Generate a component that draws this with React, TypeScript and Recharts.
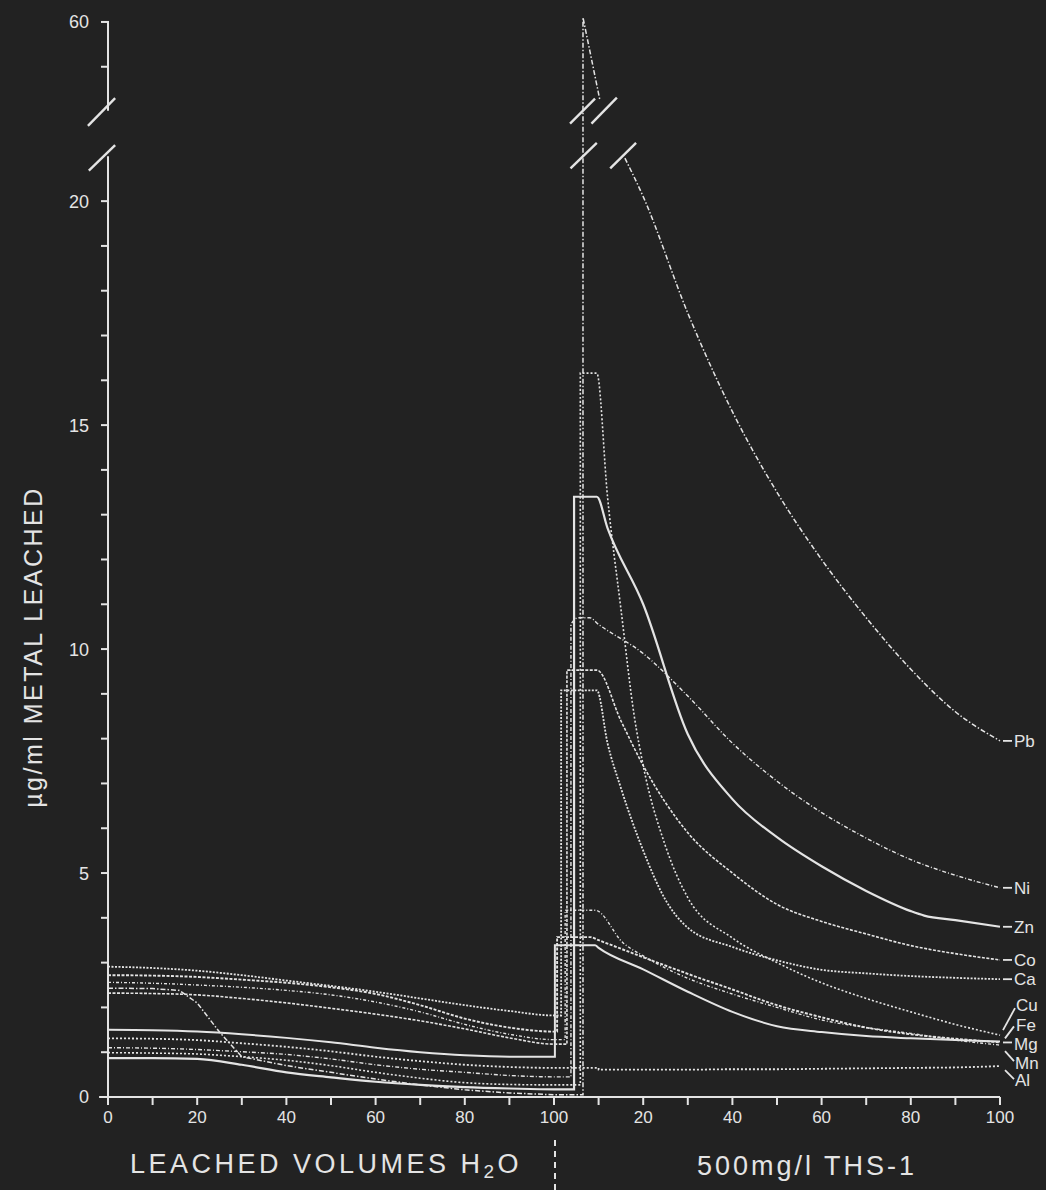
import React from 'react';
import { LineChart, Line, XAxis, YAxis, ReferenceLine, ReferenceDot } from 'recharts';

// ---------------- data ----------------
const H2O_X = [0, 10, 20, 30, 40, 50, 60, 70, 80, 90, 100];

const CA_H2O = [2.91, 2.88, 2.82, 2.72, 2.6, 2.48, 2.35, 2.2, 2.05, 1.92, 1.82];
const FE_H2O = [2.72, 2.71, 2.68, 2.62, 2.55, 2.45, 2.3, 2.05, 1.75, 1.55, 1.46];
const MN_H2O = [2.56, 2.54, 2.5, 2.45, 2.38, 2.28, 2.12, 1.9, 1.62, 1.4, 1.28];
const CO_H2O = [2.32, 2.31, 2.28, 2.2, 2.1, 1.98, 1.85, 1.7, 1.52, 1.32, 1.18];
const MG_H2O = [1.5, 1.49, 1.46, 1.4, 1.32, 1.22, 1.1, 1.0, 0.93, 0.9, 0.9];
const AL_H2O = [1.31, 1.3, 1.27, 1.2, 1.12, 1.02, 0.9, 0.8, 0.72, 0.67, 0.65];
const NI_H2O = [1.1, 1.09, 1.06, 1.01, 0.95, 0.85, 0.72, 0.62, 0.55, 0.48, 0.45];
const CU_H2O = [0.99, 0.98, 0.96, 0.9, 0.82, 0.7, 0.55, 0.42, 0.32, 0.28, 0.27];
const ZN_H2O = [0.87, 0.87, 0.85, 0.72, 0.55, 0.44, 0.34, 0.27, 0.22, 0.19, 0.17];
const PB_H2O_X = [0, 10, 16, 20, 25, 30, 40, 50, 60, 70, 80, 90, 100];
const PB_H2O = [2.43, 2.42, 2.38, 2.1, 1.45, 0.9, 0.7, 0.55, 0.4, 0.27, 0.16, 0.09, 0.05];

// THS-1 part: [x, value] (x 100..200 = THS-1 volumes 0..100)
const CA_THS: [number, number][] = [[101.6, 9.08], [109.6, 9.08], [112, 7.9], [115, 6.9], [120, 5.5], [125, 4.4], [130, 3.78], [140, 3.35], [150, 3.05], [160, 2.84], [170, 2.76], [180, 2.7], [190, 2.66], [200, 2.63]];
const FE_THS: [number, number][] = [[100.7, 3.57], [108.1, 3.57], [110, 3.5], [120, 3.12], [130, 2.75], [140, 2.4], [150, 2.05], [160, 1.78], [170, 1.55], [180, 1.4], [190, 1.3], [200, 1.22]];
const MN_THS: [number, number][] = [[102.5, 4.17], [109.2, 4.17], [115.5, 3.44], [120, 3.15], [130, 2.65], [140, 2.3], [150, 2.0], [160, 1.72], [170, 1.55], [180, 1.42], [190, 1.27], [200, 1.16]];
const CO_THS: [number, number][] = [[102.9, 9.53], [109.6, 9.53], [115, 8.4], [120, 7.4], [130, 5.9], [140, 5.0], [150, 4.3], [160, 3.92], [170, 3.64], [180, 3.38], [190, 3.2], [200, 3.06]];
const MG_THS: [number, number][] = [[100.2, 3.39], [109.2, 3.39], [110, 3.33], [120, 2.85], [130, 2.35], [140, 1.9], [150, 1.58], [160, 1.45], [170, 1.36], [180, 1.31], [190, 1.27], [200, 1.24]];
const AL_THS: [number, number][] = [[110, 0.61], [120, 0.61], [130, 0.61], [140, 0.62], [150, 0.62], [160, 0.63], [170, 0.64], [180, 0.65], [190, 0.66], [200, 0.69]];
const NI_THS: [number, number][] = [[103.8, 10.55], [105.5, 10.7], [108, 10.7], [110, 10.55], [120, 9.9], [130, 8.95], [140, 7.9], [150, 7.05], [160, 6.35], [170, 5.78], [180, 5.3], [190, 4.95], [200, 4.67]];
const CU_THS: [number, number][] = [[105.9, 16.16], [109.6, 16.16], [112, 13.4], [115, 10.9], [118, 8.5], [120, 7.4], [125, 5.6], [130, 4.45], [140, 3.55], [150, 3.0], [160, 2.55], [170, 2.2], [180, 1.9], [190, 1.62], [200, 1.38]];
const ZN_THS: [number, number][] = [[104.5, 13.4], [109.6, 13.4], [112, 12.7], [120, 11.0], [130, 8.1], [140, 6.65], [150, 5.8], [160, 5.15], [170, 4.6], [180, 4.15], [183, 4.05], [190, 3.95], [200, 3.8]];
const PB_PEAK: [number, number][] = [[106.5, 61], [110.3, 42.5]];
const PB_TAIL: [number, number][] = [[115.9, 20.96], [120, 20.1], [130, 17.5], [140, 15.3], [150, 13.5], [160, 12.0], [170, 10.7], [180, 9.55], [190, 8.6], [200, 7.95]];

const X_TICKS = [0, 10, 20, 30, 40, 50, 60, 70, 80, 90, 100, 110, 120, 130, 140, 150, 160, 170, 180, 190, 200];
const Y_TICKS_LOW = [0, 1, 2, 3, 4, 5, 6, 7, 8, 9, 10, 11, 12, 13, 14, 15, 16, 17, 18, 19, 20];
const Y_TICKS_HIGH = [50, 60];
const Y_LABELS = [0, 5, 10, 15, 20, 60];

// ---------------- broken axis mapping ----------------
const BREAK = 21.5;
const toDisplay = (v: number) => (v <= BREAK ? v : 24 + (v - 60) / 10);
const fromDisplay = (d: number) => (d <= BREAK ? d : 60 + (d - 24) * 10);

type Pt = { x: number; y: number };
const pts = (xs: number[], ys: number[]): Pt[] => xs.map((x, i) => ({ x, y: toDisplay(ys[i]) }));
const tup = (t: [number, number][]): Pt[] => t.map(([x, y]) => ({ x, y: toDisplay(y) }));
const metal = (h2o: number[], ths: [number, number][], xs: number[] = H2O_X): Pt[] => [
  ...pts(xs, h2o),
  { x: ths[0][0], y: toDisplay(h2o[h2o.length - 1]) },
  ...tup(ths),
];

const SERIES: { name: string; data: Pt[]; end?: number; curve: 'monotone' | 'linear' }[] = [
  { name: 'Pb', data: metal(PB_H2O, PB_PEAK, PB_H2O_X), curve: 'linear' },
  { name: 'Pb', data: tup(PB_TAIL), end: PB_TAIL[PB_TAIL.length - 1][1], curve: 'monotone' },
  { name: 'Ni', data: metal(NI_H2O, NI_THS), end: NI_THS[NI_THS.length - 1][1], curve: 'monotone' },
  { name: 'Zn', data: metal(ZN_H2O, ZN_THS), end: ZN_THS[ZN_THS.length - 1][1], curve: 'monotone' },
  { name: 'Co', data: metal(CO_H2O, CO_THS), end: CO_THS[CO_THS.length - 1][1], curve: 'monotone' },
  { name: 'Ca', data: metal(CA_H2O, CA_THS), end: CA_THS[CA_THS.length - 1][1], curve: 'monotone' },
  { name: 'Cu', data: metal(CU_H2O, CU_THS), end: CU_THS[CU_THS.length - 1][1], curve: 'monotone' },
  { name: 'Fe', data: metal(FE_H2O, FE_THS), end: FE_THS[FE_THS.length - 1][1], curve: 'monotone' },
  { name: 'Mg', data: metal(MG_H2O, MG_THS), end: MG_THS[MG_THS.length - 1][1], curve: 'monotone' },
  { name: 'Mn', data: metal(MN_H2O, MN_THS), end: MN_THS[MN_THS.length - 1][1], curve: 'monotone' },
  { name: 'Al', data: metal(AL_H2O, AL_THS), end: AL_THS[AL_THS.length - 1][1], curve: 'monotone' },
];

// ---------------- styles ----------------
const BG = '#222222';
const FG = '#e4e4e4';
const FONT = '"Liberation Sans", Arial, sans-serif';

const STYLE: Record<string, { dash?: string; w: number }> = {
  Pb: { dash: '5 2 1.5 2', w: 1.5 },
  Ni: { dash: '4 2 1 2', w: 1.4 },
  Zn: { w: 2.2 },
  Co: { dash: '3 1.5', w: 1.6 },
  Ca: { dash: '2 1.5', w: 1.8 },
  Cu: { dash: '2 2', w: 1.6 },
  Fe: { dash: '3 1.5', w: 1.9 },
  Mg: { w: 2 },
  Mn: { dash: '3 2 1 2', w: 1.4 },
  Al: { dash: '2 2', w: 1.8 },
};

// label offsets: leader from (lx1,ly1) to (lx2,ly2), text at (tx, ty) relative to the line end
const LABEL: Record<string, { l: [number, number, number, number]; tx: number; ty: number }> = {
  Pb: { l: [3, 0, 12, 0], tx: 14, ty: 0 },
  Ni: { l: [3, 0, 12, 0], tx: 14, ty: 0 },
  Zn: { l: [3, 0, 12, 0], tx: 14, ty: 0 },
  Co: { l: [3, 0, 12, 0], tx: 14, ty: 0 },
  Ca: { l: [3, 0, 12, 0], tx: 14, ty: 0 },
  Cu: { l: [3, -5, 15, -27], tx: 16, ty: -30 },
  Fe: { l: [5, -4, 14, -16], tx: 16, ty: -17 },
  Mg: { l: [3, 1, 12, 1], tx: 14, ty: 2 },
  Mn: { l: [5, 6, 14, 16], tx: 15, ty: 18 },
  Al: { l: [5, 4, 14, 13], tx: 15, ty: 14 },
};

const endShape = (name: string) => (p: any) => {
  const { cx, cy } = p;
  const c = LABEL[name];
  return (
    <g>
      <line x1={cx + c.l[0]} y1={cy + c.l[1]} x2={cx + c.l[2]} y2={cy + c.l[3]} stroke={FG} strokeWidth={1.8} />
      <text x={cx + c.tx} y={cy + c.ty} dy="0.36em" fill={FG} fontSize={17} fontFamily={FONT}>
        {name}
      </text>
    </g>
  );
};

const YTick = (p: any) => {
  const { x, y, payload } = p;
  const real = Math.round(fromDisplay(payload.value));
  const show = Y_LABELS.includes(real);
  return (
    <g>
      <line x1={x + 1} y1={y} x2={x + 9} y2={y} stroke={FG} strokeWidth={2} />
      {show && (
        <text x={x - 11} y={y} dy="0.36em" textAnchor="end" fill={FG} fontSize={18} fontFamily={FONT}>
          {real}
        </text>
      )}
    </g>
  );
};

const yTicks = [...Y_TICKS_LOW, ...Y_TICKS_HIGH].map(toDisplay);

const seg = (x1: number, y1: number, x2: number, y2: number, key: string, w = 2.4) => (
  <ReferenceLine
    key={key}
    segment={[{ x: x1, y: y1 }, { x: x2, y: y2 }]}
    stroke={FG}
    strokeWidth={w}
    ifOverflow="visible"
  />
);

export default function App() {
  return (
    <div style={{ position: 'absolute', left: 0, top: 0, width: 1046, height: 1190, background: BG, overflow: 'hidden' }}>
      <LineChart width={1046} height={1190} margin={{ top: 13, right: 46, bottom: 63, left: 48 }}>
        <XAxis
          type="number"
          dataKey="x"
          domain={[0, 200]}
          ticks={X_TICKS}
          interval={0}
          tickFormatter={(v: number) => (v % 20 === 0 ? String(v > 100 ? v - 100 : v) : '')}
          axisLine={{ stroke: FG, strokeWidth: 2 }}
          tickLine={{ stroke: FG, strokeWidth: 2 }}
          tickSize={8}
          tickMargin={6}
          height={30}
          tick={{ fill: FG, fontSize: 17, fontFamily: FONT }}
        />
        <YAxis
          type="number"
          domain={[0, 24.2]}
          ticks={yTicks}
          interval={0}
          width={60}
          axisLine={false}
          tickLine={false}
          tick={<YTick />}
        />
        {/* broken y axis line */}
        {seg(0, 0, 0, 21.0, 'ya', 2)}
        {seg(0, 22.02, 0, 24, 'yb', 2)}
        {seg(-2, 0, 0, 0, 'xa', 2)}
        {/* break marks on the y axis */}
        {seg(-4.5, 21.68, 1.6, 22.3, 'b1')}
        {seg(-4.3, 20.68, 1.6, 21.25, 'b2')}
        {/* break marks on the Pb peak */}
        {seg(103.6, 21.73, 109.2, 22.29, 'b3')}
        {seg(108.4, 21.73, 114.1, 22.31, 'b4')}
        {seg(103.7, 20.73, 109.6, 21.3, 'b5')}
        {seg(112.6, 20.73, 118.4, 21.3, 'b6')}
        {SERIES.map((s, i) => (
          <Line
            key={i}
            data={s.data}
            dataKey="y"
            type={s.curve}
            stroke={FG}
            strokeWidth={STYLE[s.name].w}
            strokeDasharray={STYLE[s.name].dash}
            dot={false}
            activeDot={false}
            isAnimationActive={false}
          />
        ))}
        {SERIES.filter((s) => s.end !== undefined).map((s, i) => (
          <ReferenceDot
            key={'l' + i}
            x={200}
            y={toDisplay(s.end as number)}
            r={0}
            ifOverflow="visible"
            shape={endShape(s.name)}
          />
        ))}
      </LineChart>

      {/* axis titles as text */}
      <div
        style={{
          position: 'absolute',
          left: 33,
          top: 647,
          transform: 'translate(-50%, -50%) rotate(-90deg)',
          whiteSpace: 'nowrap',
          color: FG,
          fontFamily: FONT,
          fontSize: 25,
          letterSpacing: 2.5,
        }}
      >
        µg/ml METAL LEACHED
      </div>
      <div
        style={{
          position: 'absolute',
          left: 326,
          top: 1166,
          transform: 'translate(-50%, -50%)',
          whiteSpace: 'nowrap',
          color: FG,
          fontFamily: FONT,
          fontSize: 27,
          letterSpacing: 3.5,
        }}
      >
        LEACHED VOLUMES H<sub style={{ fontSize: 19, verticalAlign: -5 }}>2</sub>O
      </div>
      <div
        style={{
          position: 'absolute',
          left: 807,
          top: 1166,
          transform: 'translate(-50%, -50%)',
          whiteSpace: 'nowrap',
          color: FG,
          fontFamily: FONT,
          fontSize: 27,
          letterSpacing: 3,
        }}
      >
        500mg/l THS-1
      </div>
      <div
        style={{
          position: 'absolute',
          left: 554,
          top: 1140,
          width: 0,
          height: 50,
          borderLeft: `2px dashed ${FG}`,
        }}
      />
    </div>
  );
}
